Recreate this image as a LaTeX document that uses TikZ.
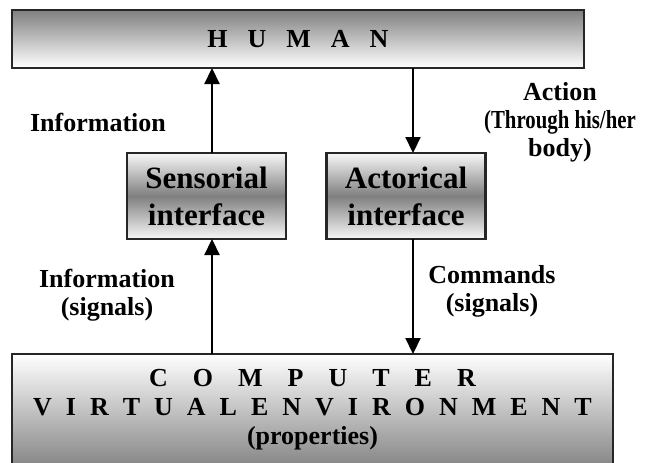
\documentclass[tikz,border=0pt]{standalone}
\usepackage{fontspec}
\usepackage{graphicx}
\setmainfont{Liberation Serif}
\usetikzlibrary{arrows.meta,calc}
\newcommand\hgap{\hspace{20pt}}
\newcommand\cga{\hspace{25pt}}
\newcommand\cgb{\hspace{14pt}}
\begin{document}
\begin{tikzpicture}[x=1pt,y=-1pt,
  box/.style={draw=black!85, line width=2.4pt, inner sep=0pt, outer sep=0pt},
  bigtxt/.style={font=\fontsize{26}{29}\selectfont\bfseries, align=center},
  lbl/.style={font=\fontsize{26}{28}\selectfont\bfseries, align=center, inner sep=0pt},
  iface/.style={box, top color=gray!6, bottom color=gray!6, middle color=gray!100,
    minimum width=159pt, minimum height=86pt,
    font=\fontsize{31}{37}\selectfont\bfseries, align=center},
  arr/.style={line width=2.2pt, -{Triangle[length=16pt,width=15pt]}}
]
\useasboundingbox (0,0) rectangle (648,463);

\node[box, bigtxt, top color=gray!100, bottom color=white,
  minimum width=572pt, minimum height=58pt] (human) at (298,39)
  {H\hgap U\hgap M\hgap A\hgap N};

\node[iface] (sens) at (206.5,196) {Sensorial\\interface};
\node[iface] (act) at (406,196) {Actorical\\interface};

\node[box, bigtxt, top color=white, bottom color=gray!95,
  minimum width=601pt, minimum height=112pt] (comp) at (312.5,410)
  {C\cga O\cga M\cga P\cga U\cga T\cga E\cga R\\
   V\cgb I\cgb R\cgb T\cgb U\cgb A\cgb L\cgb E\cgb N\cgb V\cgb I\cgb R\cgb O\cgb N\cgb M\cgb E\cgb N\cgb T\\
   (properties)};

\coordinate (lx) at (212,0);
\coordinate (rx) at (413,0);

\draw[arr] (sens.north -| lx) -- (human.south -| lx);
\draw[arr] (human.south -| rx) -- (act.north -| rx);
\draw[arr] (comp.north -| lx) -- (sens.south -| lx);
\draw[arr] (act.south -| rx) -- (comp.north -| rx);

\node[lbl] (linfo) at (98,122) {Information};
\node[lbl] (laction) at (560,122) {Action\\\scalebox{0.8}[1]{(Through his/her}\\body)};
\node[lbl] (linfosig) at (107,295) {Information\\(signals)};
\node[lbl] (lcmd) at (492,291) {Commands\\(signals)};
\end{tikzpicture}
\end{document}
